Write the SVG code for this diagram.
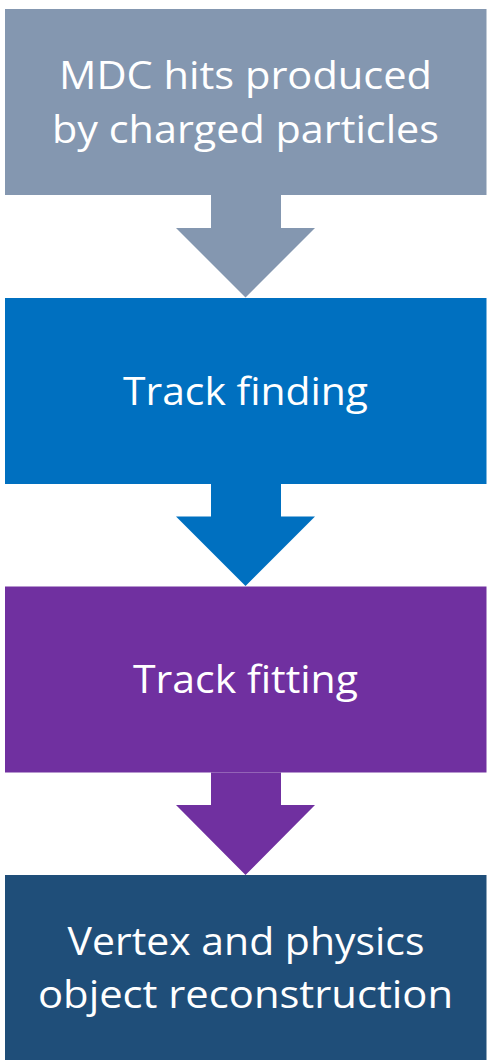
<svg xmlns="http://www.w3.org/2000/svg" width="488" height="1060" viewBox="0 0 488 1060">
<style>
.lbl{font-family:"Open Sans","Liberation Sans",sans-serif;font-size:38px;fill:#ffffff;text-anchor:middle}
</style>
<rect width="488" height="1060" fill="#ffffff"/>
<g id="connectors">
<polygon points="211,195 281,195 281,228 315,228 245.5,297.5 176,228 211,228" fill="#8497B0"/>
<polygon points="211,484 281,484 281,516.5 315,516.5 245.5,586 176,516.5 211,516.5" fill="#0070C0"/>
<polygon points="211,772.5 281,772.5 281,805 315,805 245.5,875 176,805 211,805" fill="#7030A0"/>
</g>
<g id="node1">
<rect x="5" y="9" width="481.5" height="186" fill="#8497B0"/>
<text class="lbl" x="245.5" y="89" textLength="373" lengthAdjust="spacingAndGlyphs">MDC hits produced</text>
<text class="lbl" x="245.5" y="143" textLength="387" lengthAdjust="spacingAndGlyphs">by charged particles</text>
</g>
<g id="node2">
<rect x="5" y="298" width="481.5" height="186" fill="#0070C0"/>
<text class="lbl" x="245.5" y="405" textLength="245" lengthAdjust="spacingAndGlyphs">Track finding</text>
</g>
<g id="node3">
<rect x="5" y="586.5" width="481.5" height="186" fill="#7030A0"/>
<text class="lbl" x="245.5" y="693" textLength="225" lengthAdjust="spacingAndGlyphs">Track fitting</text>
</g>
<g id="node4">
<rect x="5" y="875" width="481.5" height="185" fill="#1F4E79"/>
<text class="lbl" x="246" y="955" textLength="357" lengthAdjust="spacingAndGlyphs">Vertex and physics</text>
<text class="lbl" x="245.5" y="1008" textLength="415" lengthAdjust="spacingAndGlyphs">object reconstruction</text>
</g>
</svg>
